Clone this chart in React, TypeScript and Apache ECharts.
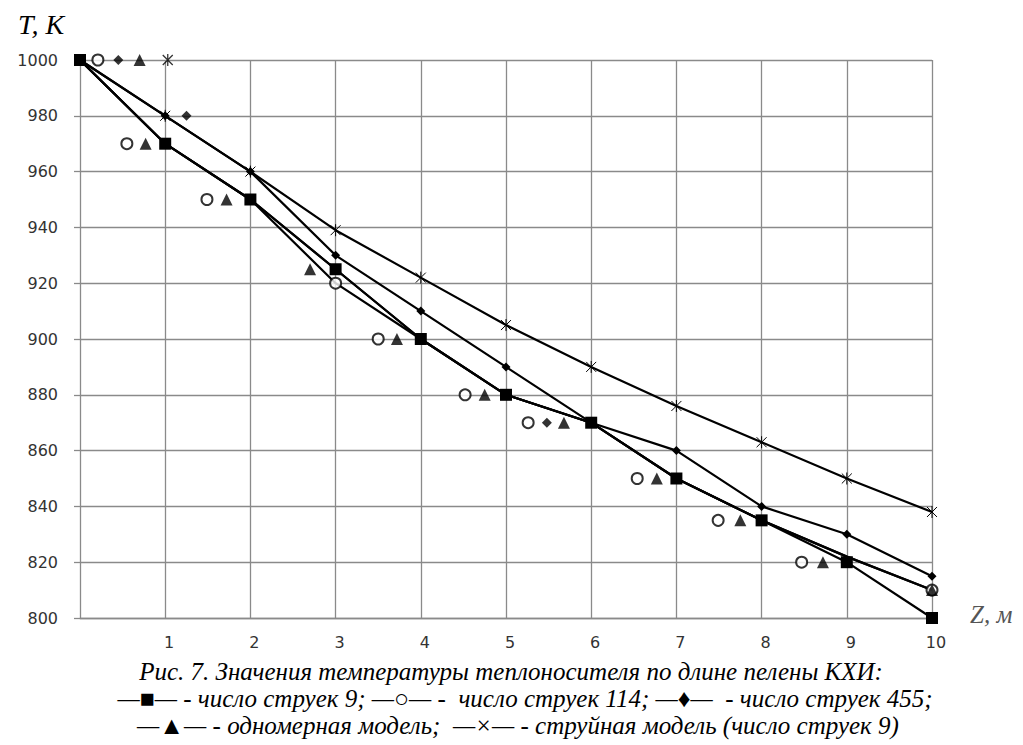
import React, { useEffect, useRef } from "react";
import * as echarts from "echarts";

// Positions along the curtain, m
const zValues = [0, 1, 2, 3, 4, 5, 6, 7, 8, 9, 10];
// Temperature, K
const tJets9 = [1000, 970, 950, 925, 900, 880, 870, 850, 835, 820, 800];
const tJets114 = [1000, 970, 950, 920, 900, 880, 870, 850, 835, 822, 810];
const tJets455 = [1000, 980, 960, 930, 910, 890, 870, 860, 840, 830, 815];
const tOneDim = [1000, 970, 950, 925, 900, 880, 870, 850, 835, 822, 810];
const tJetModel = [1000, 980, 960, 939, 922, 905, 890, 876, 863, 850, 838];

// Loose markers drawn beside the curves in the figure
const circleMarkX = [0.21, 0.55, 1.49, 3, 3.5, 4.52, 5.26, 6.54, 7.49, 8.47, 10];
const circleMarkY = [1000, 970, 950, 920, 900, 880, 870, 850, 835, 820, 810];
const triangleMarkX = [0.7, 0.77, 1.72, 2.7, 3.72, 4.75, 5.68, 6.77, 7.75, 8.72, 10];
const triangleMarkY = [1000, 970, 950, 925, 900, 880, 870, 850, 835, 820, 810];
const diamondMarkX = [0.45, 1.25, 5.48];
const diamondMarkY = [1000, 980, 870];
const starMarkX = [1.03];
const starMarkY = [1000];

const yTicks = [800, 820, 840, 860, 880, 900, 920, 940, 960, 980, 1000];

const captionLines = [
  "Рис. 7. Значения температуры теплоносителя по длине пелены КХИ:",
  "—■— - число струек 9; —○— -  число струек 114; —♦—  - число струек 455;",
  "—▲— - одномерная модель;  —×— - струйная модель (число струек 9)",
];

const STAR = "path://M0,0L10,10M10,0L0,10M5,-1L5,11";

const pairs = (xs: number[], ys: number[]) => xs.map((x, i) => [x, ys[i]]);

export default function App() {
  const ref = useRef<HTMLDivElement>(null);
  useEffect(() => {
    document.body.style.margin = "0";
    const chart = echarts.init(ref.current!, null, { renderer: "svg" });
    const lineBase = (name: string, ys: number[]) => ({
      name,
      type: "line",
      data: pairs(zValues, ys),
      lineStyle: { color: "#000", width: 2.2 },
      itemStyle: { color: "#000" },
      z: 3,
    });
    const captionStyle = (text: string) => ({
      text,
      font: 'italic 25px "Liberation Serif"',
      fill: "#000",
      textAlign: "center",
      textVerticalAlign: "middle",
    });
    chart.setOption({
      animation: false,
      backgroundColor: "#fff",
      grid: { left: 80, right: 91, top: 60, bottom: 127 },
      xAxis: {
        type: "value",
        min: 0,
        max: 10,
        interval: 1,
        axisLine: { show: true, lineStyle: { color: "#8a8a8a", width: 1.3 } },
        axisTick: { show: false },
        axisLabel: {
          margin: 16,
          color: "#333",
          fontFamily: "DejaVu Sans",
          fontSize: 16,
          padding: [0, 0, 0, 8],
          formatter: (v: number) => (v === 0 ? "" : String(v)),
        },
        splitLine: { show: true, lineStyle: { color: "#8a8a8a", width: 1.3 } },
      },
      yAxis: {
        type: "value",
        min: yTicks[0],
        max: yTicks[yTicks.length - 1],
        interval: 20,
        axisLine: { show: false },
        axisTick: { show: true, length: 6, lineStyle: { color: "#8a8a8a", width: 1.3 } },
        axisLabel: {
          margin: 22,
          color: "#333",
          fontFamily: "DejaVu Sans",
          fontSize: 16,
          formatter: (v: number) => String(v),
        },
        splitLine: { show: true, lineStyle: { color: "#8a8a8a", width: 1.3 } },
      },
      series: [
        { ...lineBase("число струек 114", tJets114), showSymbol: false, symbol: "none" },
        { ...lineBase("одномерная модель", tOneDim), showSymbol: false, symbol: "none" },
        { ...lineBase("число струек 455", tJets455), symbol: "diamond", symbolSize: 9 },
        {
          ...lineBase("струйная модель (число струек 9)", tJetModel),
          symbol: STAR,
          symbolSize: 12,
          symbolKeepAspect: true,
          itemStyle: { color: "none", borderColor: "#000", borderWidth: 1 },
        },
        { ...lineBase("число струек 9", tJets9), symbol: "rect", symbolSize: 12 },
        {
          type: "scatter",
          data: pairs(circleMarkX, circleMarkY),
          symbol: "circle",
          symbolSize: 11,
          itemStyle: { color: "#fff", borderColor: "#000", borderWidth: 2 },
          z: 5,
        },
        {
          type: "scatter",
          data: pairs(triangleMarkX, triangleMarkY),
          symbol: "triangle",
          symbolSize: 12,
          itemStyle: { color: "#000" },
          z: 5,
        },
        {
          type: "scatter",
          data: pairs(diamondMarkX, diamondMarkY),
          symbol: "diamond",
          symbolSize: 10,
          itemStyle: { color: "#000" },
          z: 5,
        },
        {
          type: "scatter",
          data: pairs(starMarkX, starMarkY),
          symbol: STAR,
          symbolSize: 12,
          symbolKeepAspect: true,
          itemStyle: { color: "none", borderColor: "#000", borderWidth: 1.3 },
          z: 5,
        },
      ],
      graphic: [
        {
          type: "text",
          x: 18,
          y: 10,
          style: { text: "T, K", font: 'italic 28px "Liberation Serif"', fill: "#000" },
        },
        {
          type: "text",
          x: 970,
          y: 602,
          style: { text: "Z, м", font: 'italic 25px "Liberation Serif"', fill: "#555" },
        },
        { type: "text", x: 511, y: 671, style: captionStyle(captionLines[0]) },
        { type: "text", x: 525, y: 698, style: captionStyle(captionLines[1]) },
        { type: "text", x: 518, y: 725, style: captionStyle(captionLines[2]) },
      ],
    });
    return () => chart.dispose();
  }, []);
  return (
    <div
      ref={ref}
      style={{ position: "fixed", left: 0, top: 0, width: 1023, height: 745, background: "#fff" }}
    />
  );
}
